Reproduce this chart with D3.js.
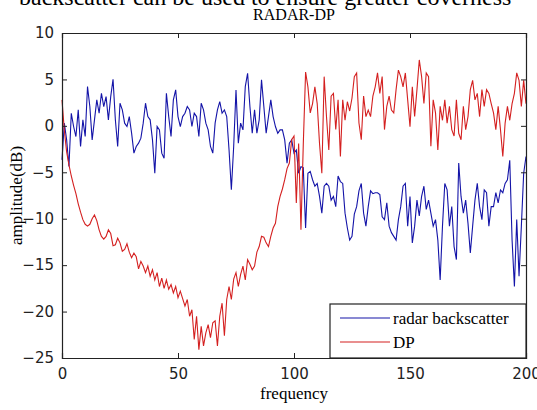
<!DOCTYPE html>
<html>
<head>
<meta charset="utf-8">
<script src="https://cdn.jsdelivr.net/npm/d3@7"></script>
<style>
  html, body { margin: 0; padding: 0; background: #fff; }
  svg { display: block; }
</style>
</head>
<body>
<svg id="chart" width="537" height="410"></svg>
<script>
// ---------- data ----------
const frequency = d3.range(0, 201); // sample index 0..200

const radarBackscatter = [
  -3.66, 0.29, -1.51, -4.37, 1.36, -0.07, -1.15, 1.72, -2.22, 0.65,
  -1.15, 4.23, 2.08, -1.51, 0.65, 2.80, 1.36, 3.51, 2.08, 3.15,
  0.65, 3.15, 5.02, 0.65, -2.22, 2.44, 1.72, 0.29, -0.07, 1.00,
  -0.79, -2.94, -2.22, -1.86, -1.33, 0.29, 2.44, 1.00, 0.65, -1.51,
  -5.09, -0.07, -0.43, -2.94, -3.48, 3.51, 1.00, -1.15, 2.80, 3.87,
  1.00,
  -0.07, 1.00, 1.36, 2.08, 1.72, -0.07, 1.36, 1.00, -1.15, 2.44,
  1.72, 0.29, -0.43, -2.22, -2.94, 0.29, 1.72, 2.62, 1.36, 1.72,
  1.00, -2.58, -6.88, -2.22, 3.87, -1.86, 0.29, -0.43, 4.23, 5.66,
  2.08, -0.79, 1.72, -0.79, 0.65, 4.95, 2.08, -0.79, 1.00, 2.80,
  1.00, -0.07, -0.79, -0.43, -0.43, -1.51, -4.01, -1.86, -1.51, -2.94,
  -2.6, -5.1, -4.4, -4.5, -11.0, -5.1, -4.9, -5.8, -6.5, -6.2,
  -7.6, -9.4, -6.5, -6.2, -6.5, -8.0, -7.6, -8.7, -5.4, -6.0,
  -6.2, -9.4, -11.0, -12.3, -11.9, -9.5, -8.7, -7.0, -6.2, -9.4,
  -10.8, -8.7, -7.0, -7.3, -7.2, -7.2, -7.4, -9.8, -10.1, -8.3,
  -10.8, -11.5, -11.9, -12.3, -10.1, -8.7, -6.5, -6.2, -10.8, -7.6,
  -12.6, -10.8, -8.0, -9.7, -7.6, -6.5, -9.0, -8.0, -9.4, -10.8,
  -10.1, -12.3, -16.6, -10.8, -6.2, -6.9, -10.8, -8.7, -13.0, -14.4,
  -4.0, -7.6, -9.4, -8.0, -10.5, -13.7, -10.8, -8.0, -6.2, -8.7,
  -10.1, -6.9, -7.2, -10.8, -8.7, -8.7, -7.2, -8.3, -6.9, -7.2,
  -6.2, -5.8, -3.7, -12.3, -17.3, -10.1, -16.2, -10.8, -5.1, -3.3
];

const dp = [
  2.8, -0.5, -2.8, -4.2, -5.4, -6.4, -7.3, -8.4, -9.3, -10.1,
  -10.6, -10.8, -10.6, -10.0, -9.6, -10.2, -11.2, -11.9, -12.2, -11.9,
  -11.2, -11.6, -12.9, -12.8, -12.1, -12.6, -13.5, -13.3, -12.7, -13.6,
  -14.2, -13.7, -14.1, -15.4, -14.6, -15.1, -15.8, -15.1, -16.2, -15.5,
  -16.6, -15.8, -17.3, -16.4, -17.5, -16.6, -17.6, -17.1, -18.0, -17.3,
  -18.5,
  -17.8, -18.6, -19.4, -18.7, -20.5, -19.8, -23.0, -20.5, -24.1, -21.6,
  -23.7, -22.3, -21.4, -22.8, -21.2, -21.0, -23.7, -20.5, -19.1, -22.6,
  -18.7, -17.3, -18.7, -16.5, -15.8, -17.3, -16.0, -15.1, -16.6, -14.4,
  -14.9, -15.5, -15.1, -13.6, -13.0, -11.9, -12.0, -12.6, -13.0, -11.9,
  -11.0, -10.5, -8.7, -7.6, -6.8, -5.8, -4.6, -4.0, -1.5, -1.1,
  -8.3, -1.9, -11.2, -2.0, 5.8, 4.2, 1.4, 2.4, 4.2, 2.4,
  -1.9, -5.1, 5.3, 1.0, -2.6, 3.2, 3.5, -0.4, 2.8, -3.3,
  2.8, 0.6, 2.6, 1.6, 3.0, 5.3, 5.7, 0.3, -1.5, 3.2,
  1.0, 1.7, 1.0, 3.2, 4.2, 5.7, 3.5, 5.3, -0.4, 2.1,
  3.2, 1.7, 1.4, 3.9, 6.0, 5.3, 4.2, 5.7, 2.8, -0.1,
  4.2, 1.0, 3.9, 7.1, 5.3, 2.4, 5.7, 5.3, -2.2, 2.8,
  1.4, -2.6, 2.1, 0.6, 2.8, 0.3, 2.1, -0.4, -1.1, 2.8,
  -0.8, -1.5, 2.1, -0.4, 1.0, 3.9, 4.9, 2.8, 3.5, 1.0,
  3.9, 2.1, 3.9, 3.5, 2.4, 1.4, -0.4, 2.1, -0.4, -3.3,
  0.3, 2.1, 0.6, 2.4, 3.5, 5.7, 4.9, 2.1, 4.9, 2.4
];

const xTicks = [0, 50, 100, 150, 200];
const yTicks = [10, 5, 0, -5, -10, -15, -20, -25];
const seriesNames = ["radar backscatter", "DP"];
const titleText = "RADAR-DP";
const xLabel = "frequency";
const yLabel = "amplitude(dB)";
const captionText = "backscatter can be used to ensure greater coverness";

// ---------- layout ----------
const svg = d3.select("#chart");
const L = 62, R = 526, T = 33, B = 358;
const x = d3.scaleLinear().domain([0, 200]).range([L, R]);
const y = d3.scaleLinear().domain([-25, 10]).range([B, T]);
const blue = "#1414a8", red = "#d42020";
const tickFont = "'DejaVu Sans', sans-serif";
const serif = "'Liberation Serif', 'Times New Roman', serif";

svg.append("rect").attr("width", 537).attr("height", 410).attr("fill", "#fff");

// cut-off caption text at top
svg.append("text").attr("x", 19).attr("y", 5)
  .attr("font-family", serif).attr("font-size", 24).attr("fill", "#000")
  .text(captionText);

// title
svg.append("text").attr("x", (L + R) / 2).attr("y", 20)
  .attr("text-anchor", "middle").attr("font-family", serif).attr("font-size", 16)
  .text(titleText);

// series
const line = d3.line().x((d, i) => x(frequency[i])).y(d => y(d));
const plot = svg.append("g");
plot.append("path").datum(radarBackscatter).attr("d", line)
  .attr("fill", "none").attr("stroke", blue).attr("stroke-width", 1.1);
plot.append("path").datum(dp).attr("d", line)
  .attr("fill", "none").attr("stroke", red).attr("stroke-width", 1.1);

// axes (ticks inward on all sides)
const tl = 5;
const axB = svg.append("g").attr("transform", `translate(0,${B})`)
  .call(d3.axisBottom(x).tickValues(xTicks).tickSize(-tl).tickPadding(10).tickFormat(d3.format("d")));
const axT = svg.append("g").attr("transform", `translate(0,${T})`)
  .call(d3.axisTop(x).tickValues(xTicks).tickSize(-tl).tickFormat(""));
const axL = svg.append("g").attr("transform", `translate(${L},0)`)
  .call(d3.axisLeft(y).tickValues(yTicks).tickSize(-tl).tickPadding(8).tickFormat(d3.format("d")));
const axR = svg.append("g").attr("transform", `translate(${R},0)`)
  .call(d3.axisRight(y).tickValues(yTicks).tickSize(-tl).tickFormat(""));
[axB, axT, axL, axR].forEach(a => {
  a.select(".domain").attr("stroke", "#222").attr("stroke-width", 1.2);
  a.selectAll(".tick line").attr("stroke", "#222");
  a.selectAll("text").attr("font-family", tickFont).attr("font-size", 15).attr("fill", "#222");
});

// axis labels
svg.append("text").attr("x", (L + R) / 2).attr("y", 399)
  .attr("text-anchor", "middle").attr("font-family", serif).attr("font-size", 17)
  .text(xLabel);
svg.append("text").attr("transform", `translate(22,${(T + B) / 2}) rotate(-90)`)
  .attr("text-anchor", "middle").attr("font-family", serif).attr("font-size", 17)
  .text(yLabel);

// legend
const lg = svg.append("g");
lg.append("rect").attr("x", 330).attr("y", 304).attr("width", R - 330).attr("height", B - 304)
  .attr("fill", "#fff").attr("stroke", "#222").attr("stroke-width", 1.2);
const colors = [blue, red];
seriesNames.forEach((name, i) => {
  const yy = 318 + i * 24;
  lg.append("line").attr("x1", 340).attr("x2", 390).attr("y1", yy).attr("y2", yy)
    .attr("stroke", colors[i]).attr("stroke-width", 1.1);
  lg.append("text").attr("x", 393).attr("y", yy + 6)
    .attr("font-family", serif).attr("font-size", 17).text(name);
});
</script>
</body>
</html>
